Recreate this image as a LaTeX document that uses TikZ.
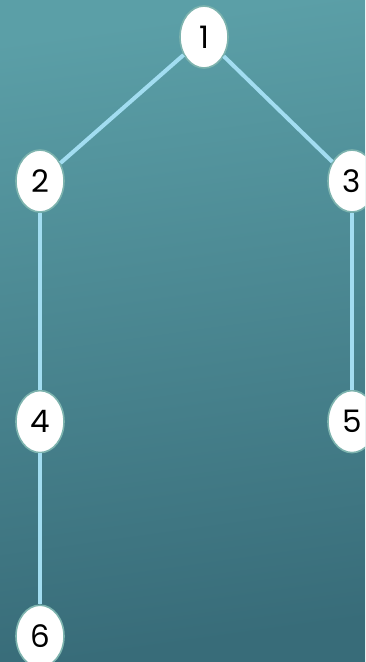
\documentclass[tikz,border=0pt]{standalone}
\usepackage{fontspec}
\setmainfont{Poppins}
\usepackage{xcolor}
\usetikzlibrary{shapes.geometric}
\usetikzlibrary{positioning}

\definecolor{bgtop}{HTML}{5B9FA7}
\definecolor{bgbot}{HTML}{386C79}
\definecolor{edgeblue}{HTML}{A2DDF1}
\definecolor{rimteal}{HTML}{7DB3AE}

\tikzset{
  vertex/.style={ellipse, fill=white, draw=rimteal, line width=1.6pt,
    minimum width=48pt, minimum height=62pt, inner sep=0pt,
    font=\fontsize{31}{31}\selectfont},
  link/.style={draw=edgeblue, line width=4pt}
}

\begin{document}
\begin{tikzpicture}[x=1pt, y=1pt]
  \useasboundingbox (0,0) rectangle (365,-662);
  \clip (0,0) rectangle (365,-662);
  \shade[top color=bgtop, bottom color=bgbot, shading angle=8] (0,0) rectangle (365,-662);

  % Define nodes
  \node[vertex] (one) at (204,-37) {1};
  \node[vertex] (two) at (40,-181) {2};
  \node[vertex] (three) at (352,-181) {3};
  %--
  \node[vertex, below=177pt of two] (four) {4};
  \node[vertex, below=177pt of three] (five) {5};
  \node[vertex, below=151pt of four] (six) {6};

  % Connect the nodes
  \draw[link] (one) -- (two);
  \draw[link] (one) -- (three);
  \draw[link] (two) -- (four);
  \draw[link] (three) -- (five);
  \draw[link] (four) -- (six);
\end{tikzpicture}
\end{document}
